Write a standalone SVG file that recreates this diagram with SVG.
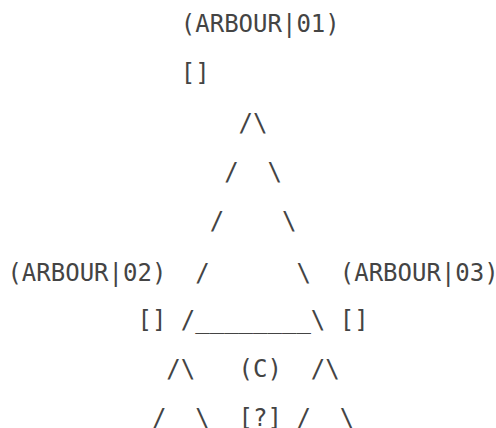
<svg xmlns="http://www.w3.org/2000/svg" width="496" height="428" viewBox="0 0 496 428">
<style>
text{font-family:"DejaVu Sans Mono","Liberation Mono",monospace;font-size:24px;fill:#444;white-space:pre}
</style>
<rect width="496" height="428" fill="#fff"/>
<g id="arbour01">
<text x="180.8" y="32">(ARBOUR|01)</text>
<text x="180.8" y="81.3">[]</text>
</g>
<g id="arbour02">
<text x="7.4" y="280.5">(ARBOUR|02)</text>
<text x="137.45" y="327.8">[]</text>
</g>
<g id="arbour03">
<text x="339.75" y="280.5">(ARBOUR|03)</text>
<text x="339.75" y="327.8">[]</text>
</g>
<g id="center">
<text x="238.6" y="377.1">(C)</text>
<text x="238.6" y="426.4">[?]</text>
</g>
<g id="connectors">
<text x="238.6" y="130.6">/\</text>
<text x="224.15" y="179.9">/</text>
<text x="267.5" y="179.9">\</text>
<text x="209.7" y="229.2">/</text>
<text x="281.95" y="229.2">\</text>
<text x="195.25" y="280.5">/</text>
<text x="296.4" y="280.5">\</text>
<text x="180.8" y="327.8">/________\</text>
<text x="166.35" y="377.1">/\</text>
<text x="310.85" y="377.1">/\</text>
<text x="151.9" y="426.4">/</text>
<text x="195.25" y="426.4">\</text>
<text x="296.4" y="426.4">/</text>
<text x="339.75" y="426.4">\</text>
</g>
</svg>
